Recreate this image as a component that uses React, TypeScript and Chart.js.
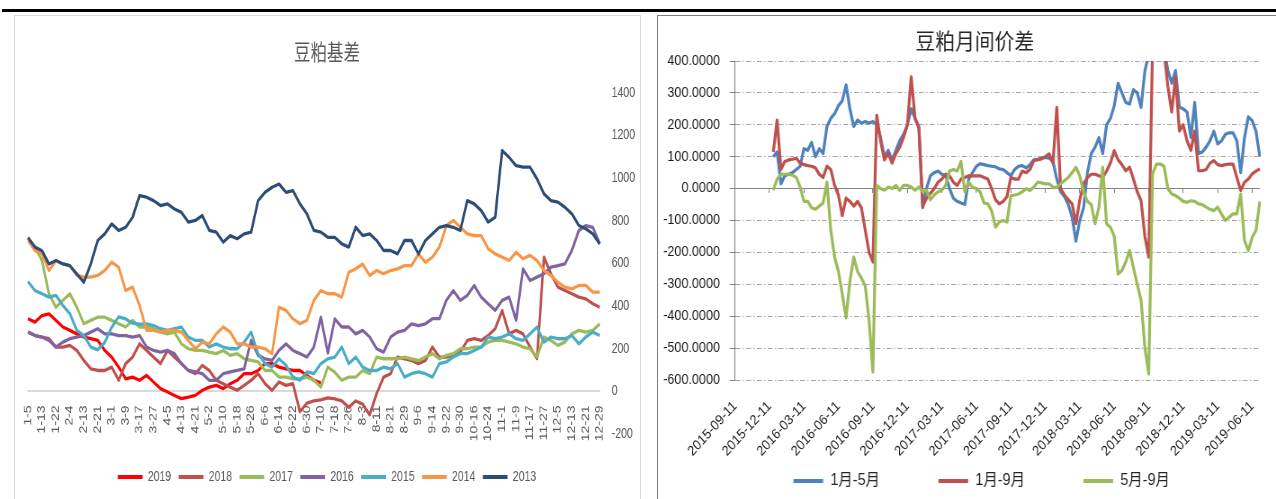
import React, { useEffect, useRef } from 'react';
import { Chart, registerables } from 'chart.js';

Chart.register(...registerables);

const LAT = "'Liberation Sans', Arial, sans-serif";
const CJK = "'Noto Sans CJK SC', 'Noto Sans', sans-serif";
const MIX = "'Liberation Sans', 'Noto Sans CJK SC', sans-serif";

// ---------------- 豆粕基差 (left) ----------------
const basisTickLabels = [
  '1-5', '1-13', '1-22', '2-4', '2-13', '2-21', '3-1', '3-9', '3-17', '3-27',
  '4-5', '4-13', '4-21', '5-2', '5-10', '5-18', '5-26', '6-6', '6-14', '6-22',
  '6-30', '7-10', '7-18', '7-26', '8-3', '8-11', '8-21', '8-29', '9-6', '9-14',
  '9-22', '9-30', '10-16', '10-24', '11-1', '11-9', '11-17', '11-27', '12-5', '12-13',
  '12-21', '12-29',
];
// two samples per labelled date
const basisCategories = Array.from({ length: basisTickLabels.length * 2 - 1 }, (_, i) =>
  i % 2 === 0 ? basisTickLabels[i / 2] : ''
);

const basisYears = ['2019', '2018', '2017', '2016', '2015', '2014', '2013'];
const basisColors = ['#FF0000', '#C0504D', '#9BBB59', '#8064A2', '#4BACC6', '#F79646', '#2C4D75'];

const basis2019 = [
  341, 325, 356, 364, 333, 302, 286, 270, 255, 247,
  239, 192, 161, 114, 59, 67, 52, 75, 44, 13,
  -3, -19, -34, -27, -19, 5, 20, 28, 13, 36,
  52, 83, 83, 98, 130, 130, 114, 106, 98, 98,
  75, 52, 40, null, null, null, null, null, null, null,
  null, null, null, null, null, null, null, null, null, null,
  null, null, null, null, null, null, null, null, null, null,
  null, null, null, null, null, null, null, null, null, null,
  null, null, null,
];
const basis2018 = [
  278, 262, 255, 247, 208, 208, 216, 192, 145, 106,
  98, 98, 114, 52, 130, 161, 223, 192, 161, 130,
  192, 161, 130, 98, 83, 122, 98, 52, 36, 20,
  5, 28, 52, 83, 36, 5, 44, 28, 36, -95,
  -55, -45, -40, -30, -35, -45, -75, -45, -60, -110,
  -10, 67, 83, 161, 153, 145, 130, 145, 208, 161,
  161, 169, 184, 239, 247, 239, 262, 294, 380, 270,
  286, 270, 208, 153, 630, 552, 489, 473, 458, 442,
  434, 411, 395,
];
const basis2017 = [
  723, 677, 614, 458, 395, 427, 458, 395, 317, 333,
  348, 348, 333, 317, 302, 333, 302, 302, 294, 278,
  270, 278, 223, 200, 192, 192, 184, 177, 192, 169,
  177, 153, 145, 138, 98, 98, 67, 67, 59, 59,
  67, 52, 20, 114, 90, 52, 67, 67, 98, 83,
  161, 153, 153, 153, 161, 153, 145, 161, 177, 153,
  169, 177, 200, 200, 208, 208, 231, 239, 239, 231,
  223, 208, 200, 161, 255, 239, 216, 231, 270, 286,
  278, 286, 317,
];
const basis2016 = [
  278, 262, 255, 239, 208, 231, 247, 255, 262, 278,
  294, 270, 270, 262, 262, 255, 262, 208, 192, 184,
  192, 177, 130, 98, 91, 83, 52, 52, 83, 91,
  98, 106, 239, 169, 153, 145, 192, 223, 192, 177,
  161, 208, 348, 180, 340, 302, 302, 270, 286, 255,
  200, 184, 255, 278, 286, 317, 309, 317, 341, 341,
  427, 473, 427, 450, 497, 442, 411, 380, 427, 442,
  333, 575, 520, 536, 552, 583, 590, 598, 661, 755,
  778, 770, 692,
];
const basis2015 = [
  515, 473, 458, 442, 450, 403, 364, 286, 262, 208,
  195, 230, 300, 350, 340, 320, 315, 317, 309, 294,
  286, 294, 302, 255, 239, 239, 208, 223, 208, 200,
  200, 231, 278, 177, 130, 114, 153, 122, 67, 52,
  91, 83, 130, 153, 161, 208, 130, 161, 114, 98,
  98, 114, 106, 130, 67, 83, 91, 83, 67, 130,
  138, 161, 177, 177, 192, 208, 255, 247, 255, 270,
  247, 239, 270, 302, 231, 255, 247, 247, 262, 223,
  255, 278, 262,
];
const basis2014 = [
  708, 660, 645, 567, 614, 598, 590, 544, 536, 536,
  544, 567, 606, 583, 473, 489, 403, 286, 286, 278,
  286, 286, 278, 239, 200, 231, 223, 270, 302, 278,
  223, 223, 208, 208, 200, 177, 395, 380, 340, 317,
  333, 427, 473, 458, 458, 442, 559, 575, 598, 544,
  567, 552, 567, 575, 590, 590, 645, 606, 630, 677,
  778, 802, 770, 739, 731, 731, 669, 645, 630, 614,
  653, 622, 638, 614, 567, 544, 512, 489, 481, 497,
  497, 466, 466,
];
const basis2013 = [
  720, 677, 660, 598, 614, 598, 590, 551, 512, 598,
  708, 739, 786, 755, 770, 817, 919, 911, 895, 872,
  880, 856, 840, 794, 802, 825, 755, 747, 700, 731,
  716, 739, 747, 895, 934, 958, 973, 934, 942, 880,
  833, 755, 747, 723, 723, 692, 677, 770, 731, 739,
  708, 661, 661, 645, 708, 708, 645, 708, 739, 770,
  778, 770, 755, 895, 880, 848, 794, 817, 1130, 1098,
  1059, 1052, 1052, 997, 927, 895, 888, 864, 833, 778,
  763, 739, 692,
];
const basisValues = [basis2019, basis2018, basis2017, basis2016, basis2015, basis2014, basis2013];

// ---------------- 豆粕月间价差 (right) ----------------
// categories every ~10 days starting 2015-09-11
const spreadCategories: string[] = [];
for (let i = 0; i < 138; i++) {
  const k = Math.floor(i / 3);
  const r = i % 3;
  const m0 = 8 + k + (r === 2 ? 1 : 0);
  const yy = 2015 + Math.floor(m0 / 12);
  const mm = (m0 % 12) + 1;
  const dd = r === 0 ? '11' : r === 1 ? '21' : '01';
  spreadCategories.push(`${yy}-${String(mm).padStart(2, '0')}-${dd}`);
}

const spreadNames = ['1月-5月', '1月-9月', '5月-9月'];
const spreadColors = ['#4F81BD', '#C0504D', '#9BBB59'];

const spread1to5 = [
  null, null, null, null, null, null, null, null, null, null,
  100, 115, 15, 40, 45, 50, 60, 70, 125, 120,
  145, 100, 125, 110, 195, 220, 235, 260, 275, 325,
  250, 195, 215, 205, 210, 205, 210, 200, 160, 100,
  120, 90, 120, 150, 170, 200, 250, 220, 195, -60,
  0, 40, 50, 55, 45, 40, 0, -30, -40, -45,
  -50, 30, 50, 70, 78, 75, 72, 70, 68, 62,
  60, 50, 40, 60, 70, 72, 65, 75, 90, 92,
  95, 98, 95, 85, 30, -10, -25, -50, -90, -165,
  -100, -60, 50, 110, 130, 160, 110, 200, 220, 260,
  330, 300, 270, 265, 310, 300, 255, 370, 420, 450,
  450, 450, 440, 370, 330, 370, 255, 250, 240, 160,
  270, 110, 115, 130, 150, 180, 140, 150, 170, 175,
  175, 150, 50, 160, 225, 213, 180, 100,
];
const spread1to9 = [
  null, null, null, null, null, null, null, null, null, null,
  115, 215, 60, 85, 90, 92, 95, 80, 75, 72,
  70, 65, 45, 35, 70, 60, 10, -20, -85, -30,
  -40, -55, -40, -60, -130, -200, -230, 230, 150, 90,
  110, 80, 110, 130, 160, 200, 350, 220, 190, -55,
  -30, -15, 0, 20, 30, 45, 40, 20, 10, 30,
  35, 40, 40, 40, 40, 35, 30, 0, -35, -48,
  -40, -25, 35, 30, 30, 55, 50, 60, 88, 90,
  93, 100, 109, 80, 255, 0, -20, -35, -48, -110,
  -35, 15, 35, 45, 45, 40, 35, 55, 80, 119,
  90, 75, 56, 67, 30, -10, -38, -150, -215, 450,
  450, 450, 430, 320, 240, 350, 180, 200, 150, 120,
  180, 56, 56, 60, 80, 88, 75, 72, 75, 77,
  77, 35, -6, 20, 30, 46, 55, 62,
];
const spread5to9 = [
  null, null, null, null, null, null, null, null, null, null,
  -5, 30, 45, 45, 45, 42, 35, 5, -40, -40,
  -60, -65, -55, -45, 20, -130, -215, -260, -330, -405,
  -290, -215, -260, -280, -305, -413, -575, 10, 0, -5,
  5, 0, 10, -5, 10, 10, 5, -5, 5, -10,
  -5, -35, -20, -10, -5, 10, 55, 60, 55, 85,
  -10, 20, 4, 0, -11, -45, -48, -70, -121, -105,
  -100, -105, -22, -20, -17, -10, 0, -6, 5, 20,
  18, 15, 15, 5, 4, 15, 25, 35, 50, 67,
  40, -10, -40, -50, -110, -58, 67, -110, -121, -150,
  -268, -257, -230, -194, -247, -300, -350, -500, -581, 46,
  77, 77, 70, 0, -17, -22, -30, -40, -43, -38,
  -40, -48, -50, -58, -65, -69, -58, -80, -100, -90,
  -79, -79, -17, -163, -194, -153, -131, -40,
];
const spreadValues = [spread1to5, spread1to9, spread5to9];

// ---------------- helpers ----------------
const legendLabels = (chart: any) =>
  (Chart.defaults.plugins.legend.labels as any)
    .generateLabels(chart)
    .map((l: any) => ({ ...l, fillStyle: l.strokeStyle, lineWidth: 0 }))
    .sort((a: any, b: any) => a.datasetIndex - b.datasetIndex);

function ChartCanvas({ make, w, h, dispW, left, top }: any) {
  const ref = useRef<HTMLCanvasElement>(null);
  useEffect(() => {
    const chart = new Chart(ref.current as HTMLCanvasElement, make());
    return () => chart.destroy();
  }, []);
  return (
    <canvas
      ref={ref}
      width={w}
      height={h}
      style={{ position: 'absolute', left, top, width: dispW + 'px', height: h + 'px' }}
    />
  );
}

// left chart: internal 835 wide, shown 626 wide
const LW = 835;
const LH = 484;

function makeBasis(): any {
  return {
    type: 'line',
    data: {
      labels: basisCategories,
      datasets: basisValues.map((d, i) => ({
        label: basisYears[i],
        data: d,
        borderColor: basisColors[i],
        backgroundColor: basisColors[i],
        borderWidth: 3.3,
        pointRadius: 0,
        tension: 0,
        borderJoinStyle: 'round',
        order: basisValues.length - i,
        xAxisID: 'x',
        yAxisID: 'y',
      })),
    },
    options: {
      responsive: false,
      animation: false,
      devicePixelRatio: 1,
      events: [],
      layout: { padding: { left: 0, right: 0, top: 10, bottom: 5 } },
      plugins: {
        title: {
          display: true,
          text: '豆粕基差',
          color: '#595959',
          font: { family: CJK, size: 22, weight: 'normal' },
          padding: { top: 13, bottom: 28.6 },
        },
        legend: {
          position: 'bottom',
          labels: {
            boxWidth: 33,
            boxHeight: 4,
            padding: 10,
            color: '#595959',
            font: { family: LAT, size: 14 },
            generateLabels: legendLabels,
          },
        },
        tooltip: { enabled: false },
      },
      scales: {
        x: {
          type: 'category',
          position: { y: 0 },
          grid: { display: true, drawOnChartArea: false, drawTicks: false },
          border: { display: true, color: '#d9d9d9', width: 2 },
          ticks: {
            autoSkip: false,
            minRotation: 90,
            maxRotation: 90,
            padding: 14,
            color: '#595959',
            font: { family: LAT, size: 14 },
          },
        },
        xs: {
          type: 'category',
          position: 'bottom',
          grid: { display: false, drawTicks: false },
          border: { display: false },
          ticks: { display: false },
          afterFit: (s: any) => {
            s.height = 26;
          },
        },
        ysl: {
          type: 'linear',
          position: 'left',
          grid: { display: false, drawTicks: false },
          border: { display: false },
          ticks: { display: false },
          afterFit: (s: any) => {
            s.width = 18.7;
          },
        },
        y: {
          type: 'linear',
          position: 'right',
          min: -200,
          max: 1400,
          ticks: {
            stepSize: 200,
            padding: 16,
            color: '#595959',
            font: { family: LAT, size: 14 },
            callback: (v: any) => String(v),
          },
          grid: { display: false, drawTicks: false },
          border: { display: false },
          afterFit: (s: any) => {
            s.width = 53.7;
          },
        },
      },
    },
  };
}

// right chart: internal 718 wide, shown 646 wide
const RW = 718;
const RH = 484;

function makeSpread(): any {
  return {
    type: 'line',
    data: {
      labels: spreadCategories,
      datasets: spreadValues.map((d, i) => ({
        label: spreadNames[i],
        data: d,
        borderColor: spreadColors[i],
        backgroundColor: spreadColors[i],
        borderWidth: 3.2,
        pointRadius: 0,
        tension: 0,
        borderJoinStyle: 'round',
        order: spreadValues.length - i,
        xAxisID: 'x',
        yAxisID: 'y',
      })),
    },
    options: {
      responsive: false,
      animation: false,
      devicePixelRatio: 1,
      events: [],
      layout: { padding: { left: 0, right: 11.3, top: 5, bottom: 0 } },
      plugins: {
        title: {
          display: true,
          text: '豆粕月间价差',
          color: '#262626',
          font: { family: CJK, size: 22, weight: 'normal' },
          padding: { top: 7, bottom: 7.6 },
        },
        legend: {
          position: 'bottom',
          fullSize: false,
          align: 'start',
          labels: {
            boxWidth: 33,
            boxHeight: 4,
            padding: 65,
            color: '#262626',
            font: { family: MIX, size: 16 },
            generateLabels: legendLabels,
          },
        },
        tooltip: { enabled: false },
      },
      scales: {
        x: {
          type: 'category',
          position: { y: 0 },
          ticks: { display: false, autoSkip: false },
          grid: {
            display: true,
            drawOnChartArea: false,
            drawTicks: true,
            tickLength: 4,
            tickColor: (c: any) => (c.index % 9 === 0 ? '#868686' : 'rgba(0,0,0,0)'),
          },
          border: { display: true, color: '#868686', width: 1 },
        },
        x2: {
          type: 'category',
          position: { y: -600 },
          grid: { display: false, drawTicks: false },
          border: { display: false },
          ticks: {
            autoSkip: false,
            minRotation: 45,
            maxRotation: 45,
            padding: 18,
            color: '#1a1a1a',
            font: { family: LAT, size: 14 },
            callback: (_v: any, i: number) => (i % 9 === 0 ? spreadCategories[i] : ''),
          },
        },
        xs: {
          type: 'category',
          position: 'bottom',
          grid: { display: false, drawTicks: false },
          border: { display: false },
          ticks: { display: false },
          afterFit: (s: any) => {
            s.height = 28;
          },
        },
        y: {
          type: 'linear',
          position: 'left',
          min: -600,
          max: 400,
          ticks: {
            stepSize: 100,
            padding: 10.7,
            color: '#1a1a1a',
            font: { family: LAT, size: 14 },
            callback: (v: any) => Number(v).toFixed(4),
          },
          grid: {
            color: (c: any) => (c.tick && c.tick.value === 0 ? 'rgba(0,0,0,0)' : '#a6a6a6'),
            lineWidth: 1,
            drawTicks: true,
            tickLength: 6,
            tickColor: '#868686',
          },
          border: {
            display: true,
            color: '#868686',
            width: 1,
            dash: (c: any) => (c.tick && c.tick.value === 0 ? [] : [5.5, 2.5, 1.5, 2.5]),
          },
          afterFit: (s: any) => {
            s.width = 86.67;
          },
        },
        ys: {
          type: 'linear',
          position: 'right',
          grid: { display: false, drawTicks: false },
          border: { display: false },
          ticks: { display: false },
          afterFit: (s: any) => {
            s.width = 36.7;
          },
        },
      },
    },
  };
}

export default function App() {
  return (
    <div
      style={{
        position: 'fixed',
        left: 0,
        top: 0,
        width: 1276,
        height: 499,
        overflow: 'hidden',
        background: '#fff',
      }}
    >
      <div style={{ position: 'absolute', left: 2, top: 9, width: 1274, height: 3, background: '#000' }} />
      <div
        style={{
          position: 'absolute',
          left: 14,
          top: 15,
          width: 627,
          height: 520,
          border: '1px solid #d9d9d9',
          boxSizing: 'border-box',
        }}
      />
      <div
        style={{
          position: 'absolute',
          left: 657,
          top: 15,
          width: 700,
          height: 520,
          border: '1px solid #7f7f7f',
          boxSizing: 'border-box',
        }}
      />
      <ChartCanvas make={makeBasis} w={LW} h={LH} dispW={626} left={14} top={15} />
      <ChartCanvas make={makeSpread} w={RW} h={RH} dispW={646} left={657} top={15} />
    </div>
  );
}
